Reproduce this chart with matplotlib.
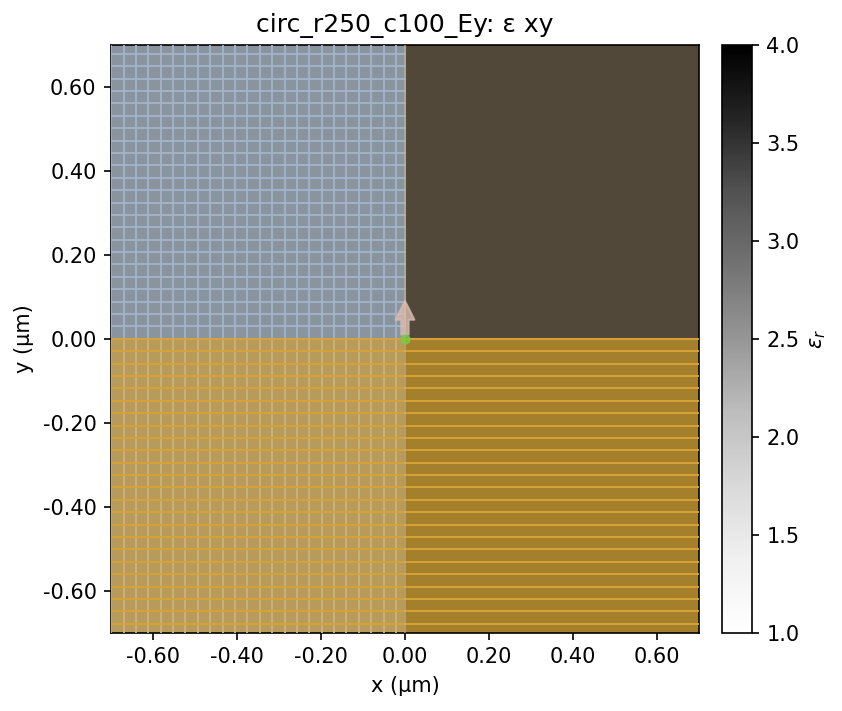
import numpy as np
import matplotlib.pyplot as plt
from matplotlib.patches import Rectangle

title = "circ_r250_c100_Ey: ε xy"
x_range = [-0.7, 0.7]
y_range = [-0.7, 0.7]
eps_vmin, eps_vmax = 1.0, 4.0
eps_value = 3.6
grid_step = 0.0295
ticks = [-0.6, -0.4, -0.2, 0.0, 0.2, 0.4, 0.6]
cbar_ticks = [1.0, 1.5, 2.0, 2.5, 3.0, 3.5, 4.0]
src_xy = (0.0, 0.0)
src_dir = (0.0, 0.1)

fig = plt.figure(figsize=(842 / 150, 711 / 150), dpi=150)
ax = fig.add_axes([0.132, 0.11, 0.698, 0.827])
cax = fig.add_axes([0.858, 0.11, 0.035, 0.827])

eps = np.full((10, 10), eps_value)
im = ax.imshow(eps, cmap="Greys", vmin=eps_vmin, vmax=eps_vmax, origin="lower",
               extent=x_range + y_range, aspect="auto")

# quadrant overlays
ax.add_patch(Rectangle((0, 0), 0.7, 0.7, color="#51483a", zorder=2))
ax.add_patch(Rectangle((-0.7, 0), 0.7, 0.7, color="#8a949f", zorder=2))
ax.add_patch(Rectangle((-0.7, -0.7), 0.7, 0.7, color="#b89a5a", zorder=2))
ax.add_patch(Rectangle((0, -0.7), 0.7, 0.7, color="#a4802c", zorder=2))

# mesh lines
gx = np.arange(-0.7, 0.0001, grid_step)
for xv in gx:
    ax.plot([xv, xv], [0, 0.7], color="#a3b3c8", lw=0.9, zorder=3)
    ax.plot([xv, xv], [-0.7, 0], color="#cbb27a", lw=0.9, zorder=3)
gy = np.arange(0.0, 0.7, grid_step)
for yv in gy:
    ax.plot([-0.7, 0], [yv, yv], color="#a3b3c8", lw=0.9, zorder=3)
    ax.plot([-0.7, 0.7], [-yv, -yv], color="#d9a335", lw=0.9, zorder=3)
ax.plot([0, 0], [-0.7, 0.7], color="#c9b58a", lw=0.9, alpha=0.6, zorder=3)

# source
ax.annotate("", xy=(src_xy[0] + src_dir[0], src_xy[1] + src_dir[1]), xytext=src_xy,
            arrowprops=dict(arrowstyle="simple,head_width=0.9,head_length=0.9,tail_width=0.35",
                            color="#d8bcb0", alpha=0.8), zorder=4)
ax.plot(*src_xy, "o", color="#7ac943", ms=4, alpha=0.8, zorder=5)

ax.set_xlim(x_range)
ax.set_ylim(y_range)
ax.set_xticks(ticks)
ax.set_yticks(ticks)
ax.set_xticklabels([f"{t:.2f}" for t in ticks])
ax.set_yticklabels([f"{t:.2f}" for t in ticks])
ax.set_xlabel("x (µm)")
ax.set_ylabel("y (µm)")
ax.set_title(title)

cb = fig.colorbar(im, cax=cax, ticks=cbar_ticks)
cb.set_label(r"$\varepsilon_r$")

fig.savefig("out.png", dpi=150)
